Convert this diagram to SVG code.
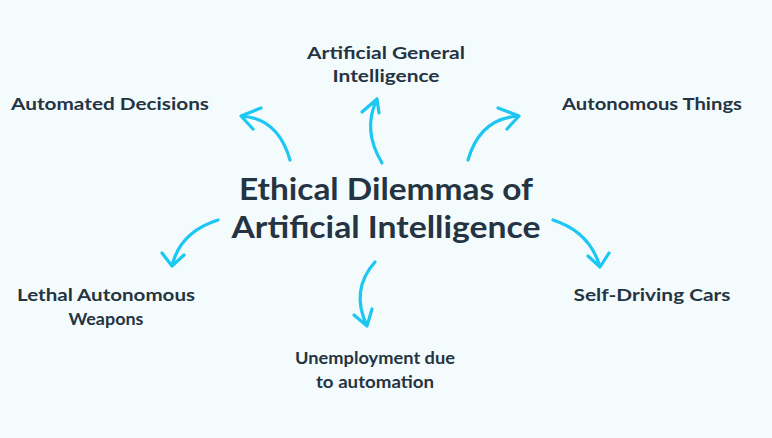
<svg xmlns="http://www.w3.org/2000/svg" width="772" height="438" viewBox="0 0 772 438">
<style>
.t{font-family:Lato,"Open Sans",sans-serif;font-weight:700;fill:#253442;text-anchor:middle}
.l{font-size:17.5px}
.h{font-size:31px}
.a{fill:none;stroke:#1cc7f1;stroke-width:3.2;stroke-linecap:round;stroke-linejoin:round}
</style>
<rect width="772" height="438" fill="#f4fbfd"/>
<g id="center"><text class="t h" x="386" y="200" textLength="294" lengthAdjust="spacingAndGlyphs">Ethical Dilemmas of</text><text class="t h" x="386" y="238" textLength="309" lengthAdjust="spacingAndGlyphs">Artificial Intelligence</text></g>
<g id="n1"><text class="t l" x="110" y="110" textLength="198" lengthAdjust="spacingAndGlyphs">Automated Decisions</text></g>
<g id="n2"><text class="t l" x="386" y="59" textLength="158" lengthAdjust="spacingAndGlyphs">Artificial General</text><text class="t l" x="386" y="82" textLength="107" lengthAdjust="spacingAndGlyphs">Intelligence</text></g>
<g id="n3"><text class="t l" x="652" y="110" textLength="180" lengthAdjust="spacingAndGlyphs">Autonomous Things</text></g>
<g id="n4"><text class="t l" x="106" y="301" textLength="178" lengthAdjust="spacingAndGlyphs">Lethal Autonomous</text><text class="t l" x="106" y="325" textLength="75" lengthAdjust="spacingAndGlyphs">Weapons</text></g>
<g id="n5"><text class="t l" x="652" y="301" textLength="157" lengthAdjust="spacingAndGlyphs">Self-Driving Cars</text></g>
<g id="n6"><text class="t l" x="375" y="364" textLength="160" lengthAdjust="spacingAndGlyphs">Unemployment due</text><text class="t l" x="375" y="388" textLength="118" lengthAdjust="spacingAndGlyphs">to automation</text></g>
<g id="connectors">
<path class="a" d="M290 160 Q278 118 241 116 M261 108 L241 116 L253 129"/>
<path class="a" d="M382 163 Q362 130 377 99 M362 112 L377 99 L379 113"/>
<path class="a" d="M468 160 Q480 118 519 116 M498 108 L519 116 L507 129"/>
<path class="a" d="M218 220 Q180 232 172 266 M162 253 L172 266 L184 255"/>
<path class="a" d="M375 262 Q350 290 367 326 M354 315 L367 326 L372 309"/>
<path class="a" d="M553 220 Q590 232 600 267 M588 256 L600 267 L609 253"/>
</g>
</svg>
